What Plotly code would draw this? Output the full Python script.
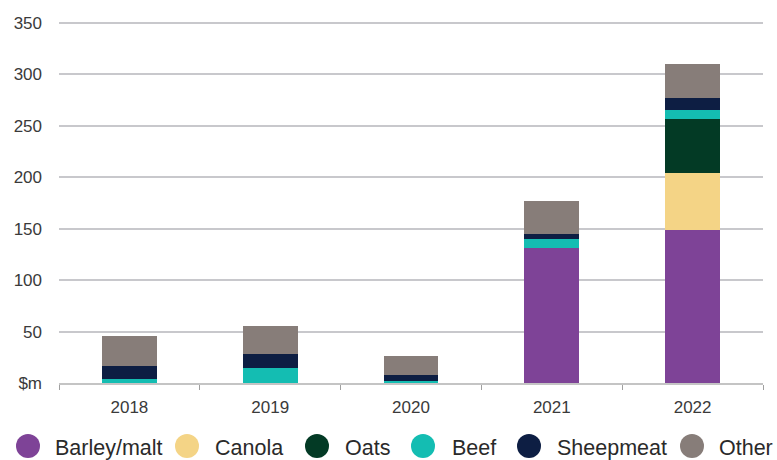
import plotly.graph_objects as go

years = ["2018", "2019", "2020", "2021", "2022"]
barley = [0, 0, 0, 131, 148.7]
canola = [0, 0, 0, 0, 55.2]
oats = [0, 0, 0, 0, 52.8]
beef = [4, 14.3, 1.5, 9.3, 8.7]
sheepmeat = [12.8, 13.6, 6.3, 4.3, 11.5]
other = [29, 27.8, 18.7, 32.6, 33.5]

names = ["Barley/malt", "Canola", "Oats", "Beef", "Sheepmeat", "Other"]
colors = ["#7e4397", "#f4d486", "#033a25", "#14bdb2", "#0d1e43", "#877d79"]
values = [barley, canola, oats, beef, sheepmeat, other]

ytickvals = [0, 50, 100, 150, 200, 250, 300, 350]
yticktext = ["$m", "50", "100", "150", "200", "250", "300", "350"]

# figure geometry (pixels)
W, H = 777, 460
L, R, T, B = 59, 14, 22, 77

# legend layout (pixel positions of marker centres / text starts)
leg_marker_x = [28, 187, 317, 423, 529, 692]
leg_text_x = [54, 214, 344, 451, 556, 718]
leg_y = 446


def px_x(p):
    return (p - L) / (W - L - R)


def px_y(p):
    return (H - B - p) / (H - T - B)


fig = go.Figure()
for name, vals, col in zip(names, values, colors):
    fig.add_trace(go.Bar(x=years, y=vals, name=name,
                         marker=dict(color=col, line=dict(width=0)),
                         showlegend=False))

shapes = []
annotations = []
for name, col, mx, tx in zip(names, colors, leg_marker_x, leg_text_x):
    shapes.append(dict(type="circle", xref="paper", yref="paper",
                       xsizemode="pixel", ysizemode="pixel",
                       xanchor=px_x(mx), yanchor=px_y(leg_y),
                       x0=-12, x1=12, y0=-12, y1=12,
                       fillcolor=col, line=dict(width=0)))
    annotations.append(dict(text=name, xref="paper", yref="paper",
                            x=px_x(tx), y=px_y(leg_y + 1.5),
                            xanchor="left", yanchor="middle", showarrow=False,
                            borderpad=0,
                            font=dict(size=21.5, color="#2a2a2a",
                                      family="Liberation Sans, Arial, sans-serif")))

fig.update_layout(
    barmode="stack",
    bargap=0.61,
    width=W, height=H,
    margin=dict(l=L, r=R, t=T, b=B),
    plot_bgcolor="white", paper_bgcolor="white",
    font=dict(family="Liberation Sans, Arial, sans-serif", color="#3a3a3a"),
    showlegend=False,
    shapes=shapes,
    annotations=annotations,
    xaxis=dict(type="category", showgrid=False, showline=True, linecolor="#c4c4c4", linewidth=1.5,
               ticks="outside", tickson="boundaries", ticklen=5, tickcolor="#a0a0a0",
               tickfont=dict(size=17, color="#3a3a3a"), ticklabelstandoff=8),
    yaxis=dict(range=[0, 351], tickvals=ytickvals, ticktext=yticktext,
               showgrid=True, gridcolor="#c8c8cc", gridwidth=1.5, zeroline=False,
               showline=False, tickfont=dict(size=17, color="#3a3a3a"),
               ticklabelstandoff=16),
)

fig.write_html("out.html")
